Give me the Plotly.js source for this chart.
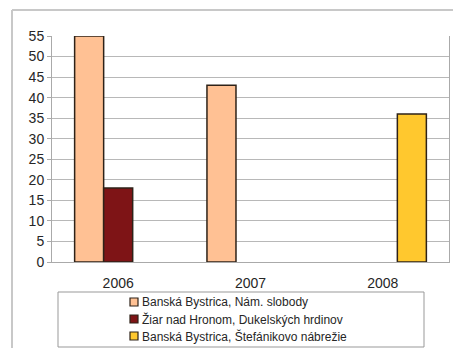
<!DOCTYPE html>
<html>
<head>
<meta charset="utf-8">
<script src="https://cdn.plot.ly/plotly-3.0.1.min.js"></script>
<style>
  html, body { margin: 0; padding: 0; background: #ffffff; }
  #chart { width: 453px; height: 348px; }
</style>
</head>
<body>
<div id="chart"></div>
<script>
// Yearly values per measuring station
const years = ['2006', '2007', '2008'];
const seriesNames = [
  'Banská Bystrica, Nám. slobody',
  'Žiar nad Hronom, Dukelských hrdinov',
  'Banská Bystrica, Štefánikovo nábrežie'
];
const namSlobody = [55, 43, null];
const ziarNadHronom = [18, null, null];
const stefanikovo = [null, null, 36];
const yTicks = [0, 5, 10, 15, 20, 25, 30, 35, 40, 45, 50, 55];

const colors = ['#FFC194', '#7E1416', '#FFC82E'];
const outlineColor = '#2e2218';

const traces = [namSlobody, ziarNadHronom, stefanikovo].map((vals, i) => ({
  type: 'bar',
  x: years,
  y: vals,
  name: seriesNames[i],
  marker: { color: colors[i], line: { color: outlineColor, width: 1.5 } },
  hoverinfo: 'skip'
}));

// geometry helpers for paper-space decorations
const W = 453, H = 348;
const m = { l: 52, r: 4, t: 36, b: 86, autoexpand: false };
const pw = W - m.l - m.r, ph = H - m.t - m.b;
const px = x => (x - m.l) / pw;
const py = y => (H - m.b - y) / ph;

const shapes = [
  // outer frame (left and top edges)
  { type: 'line', xref: 'paper', yref: 'paper', x0: px(12), x1: px(12), y0: py(10), y1: py(360),
    line: { color: '#c8c8c8', width: 2 } },
  { type: 'line', xref: 'paper', yref: 'paper', x0: px(12), x1: px(470), y0: py(10), y1: py(10),
    line: { color: '#c8c8c8', width: 2 } },
  // legend box
  { type: 'rect', xref: 'paper', yref: 'paper', x0: px(58), x1: px(424), y0: py(292), y1: py(347),
    line: { color: '#999999', width: 1 }, fillcolor: 'rgba(0,0,0,0)' }
];
const annotations = [];

// compact legend: swatch + label per series, rows 17px apart
seriesNames.forEach((name, i) => {
  const cy = 302 + 17 * i;
  shapes.push({
    type: 'rect', xref: 'paper', yref: 'paper',
    x0: px(130), x1: px(138), y0: py(cy - 4), y1: py(cy + 4),
    fillcolor: colors[i], line: { color: outlineColor, width: 1.2 }
  });
  annotations.push({
    xref: 'paper', yref: 'paper', x: px(140), y: py(cy),
    xanchor: 'left', yanchor: 'middle', showarrow: false,
    text: name, font: { size: 12, color: '#262626' }
  });
});

const layout = {
  width: W,
  height: H,
  margin: m,
  paper_bgcolor: '#ffffff',
  plot_bgcolor: '#ffffff',
  font: { family: 'Liberation Sans, Arial, sans-serif', color: '#262626', size: 14 },
  barmode: 'group',
  bargap: 0.342,
  bargroupgap: 0,
  showlegend: false,
  xaxis: {
    type: 'category',
    showgrid: false,
    showline: true,
    linecolor: '#aaaaaa',
    linewidth: 1,
    ticks: '',
    ticklabelstandoff: 8,
    tickfont: { size: 14 },
    fixedrange: true
  },
  yaxis: {
    range: [0, 55],
    tickvals: yTicks,
    ticktext: yTicks.map(String),
    showgrid: true,
    gridcolor: '#b8b8b8',
    gridwidth: 1,
    zeroline: false,
    showline: true,
    mirror: true,
    linecolor: '#aaaaaa',
    linewidth: 1,
    ticks: 'outside',
    ticklen: 4,
    tickcolor: '#aaaaaa',
    tickfont: { size: 14 },
    fixedrange: true
  },
  shapes: shapes,
  annotations: annotations
};

Plotly.newPlot('chart', traces, layout, { staticPlot: true, displayModeBar: false });
</script>
</body>
</html>
